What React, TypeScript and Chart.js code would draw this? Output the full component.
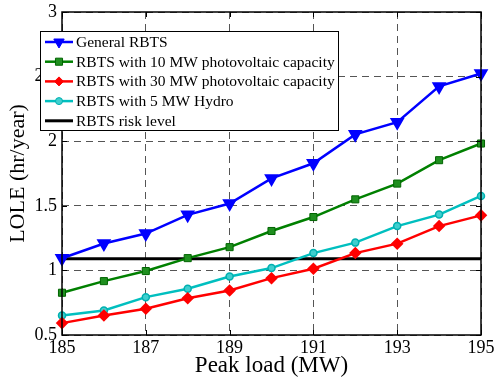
import React, { useEffect, useRef } from "react";
import { Chart, registerables } from "chart.js";

Chart.register(...registerables);

const peakLoad = [185, 186, 187, 188, 189, 190, 191, 192, 193, 194, 195];
const generalRBTS = [1.094, 1.208, 1.285, 1.43, 1.518, 1.712, 1.829, 2.053, 2.147, 2.424, 2.524];
const pv10 = [0.827, 0.917, 0.995, 1.095, 1.18, 1.305, 1.413, 1.55, 1.672, 1.853, 1.982];
const pv30 = [0.592, 0.651, 0.703, 0.785, 0.845, 0.94, 1.013, 1.134, 1.207, 1.343, 1.426];
const hydro5 = [0.651, 0.69, 0.793, 0.858, 0.953, 1.018, 1.134, 1.215, 1.343, 1.432, 1.576];
const riskLevel = 1.09;
const riskX = [185, 195];

const labels = [
  "General RBTS",
  "RBTS with 10 MW photovoltaic capacity",
  "RBTS with 30 MW photovoltaic capacity",
  "RBTS with 5 MW Hydro",
  "RBTS risk level",
];

const FONT = "'Liberation Serif', 'Times New Roman', serif";

function toXY(xs: number[], ys: number[]) {
  return xs.map((x, i) => ({ x, y: ys[i] }));
}

function drawMarker(ctx: CanvasRenderingContext2D, style: string, x: number, y: number, r: number, fill: string, stroke: string) {
  ctx.save();
  ctx.fillStyle = fill;
  ctx.strokeStyle = stroke;
  ctx.lineWidth = 1;
  ctx.beginPath();
  if (style === "triDown") {
    const h = r * 1.5;
    const w = r * Math.sqrt(3) / 2;
    ctx.moveTo(x - w, y - h / 3);
    ctx.lineTo(x + w, y - h / 3);
    ctx.lineTo(x, y + (2 * h) / 3);
    ctx.closePath();
  } else if (style === "rect") {
    const s = r * Math.SQRT1_2;
    ctx.rect(x - s, y - s, 2 * s, 2 * s);
  } else if (style === "rectRot") {
    ctx.moveTo(x - r, y);
    ctx.lineTo(x, y - r);
    ctx.lineTo(x + r, y);
    ctx.lineTo(x, y + r);
    ctx.closePath();
  } else if (style === "circle") {
    ctx.arc(x, y, r, 0, Math.PI * 2);
  }
  if (style !== "none") {
    ctx.fill();
    ctx.stroke();
  }
  ctx.restore();
}

const framePlugin = {
  id: "framePlugin",
  afterDraw(chart: any) {
    const ctx: CanvasRenderingContext2D = chart.ctx;
    const { left, right, top, bottom } = chart.chartArea;
    ctx.save();
    ctx.strokeStyle = "#000";
    ctx.lineWidth = 1;
    const xs = chart.scales.x;
    const ys = chart.scales.y;
    ctx.beginPath();
    xs.ticks.forEach((t: any) => {
      const px = Math.round(xs.getPixelForValue(t.value)) + 0.5;
      ctx.moveTo(px, top);
      ctx.lineTo(px, top + 5);
      ctx.moveTo(px, bottom);
      ctx.lineTo(px, bottom - 5);
    });
    ys.ticks.forEach((t: any) => {
      const py = Math.round(ys.getPixelForValue(t.value)) + 0.5;
      ctx.moveTo(left, py);
      ctx.lineTo(left + 5, py);
      ctx.moveTo(right, py);
      ctx.lineTo(right - 5, py);
    });
    ctx.stroke();
    ctx.lineWidth = 1.5;
    ctx.strokeRect(left, top, right - left, bottom - top);

    // legend
    const bx = 40, by = 31, bw = 298, bh = 99;
    ctx.fillStyle = "#fff";
    ctx.fillRect(bx, by, bw, bh);
    ctx.lineWidth = 1;
    ctx.strokeStyle = "#000";
    ctx.strokeRect(bx + 0.5, by + 0.5, bw, bh);
    const styles = ["triDown", "rect", "rectRot", "circle", "none"];
    const radii = [6, 5, 4.5, 3.5, 0];
    chart.data.datasets.forEach((ds: any, i: number) => {
      const cy = 42 + i * 19.7;
      ctx.strokeStyle = ds.borderColor;
      ctx.lineWidth = ds.borderWidth;
      ctx.beginPath();
      ctx.moveTo(45, cy);
      ctx.lineTo(73, cy);
      ctx.stroke();
      drawMarker(ctx, styles[i], 59, cy, radii[i], ds.pointBackgroundColor || ds.borderColor, ds.pointBorderColor || ds.borderColor);
      ctx.fillStyle = "#000";
      ctx.font = "15.5px " + FONT;
      ctx.textBaseline = "middle";
      ctx.textAlign = "left";
      ctx.fillText(ds.label, 76, cy + 1);
    });
    ctx.restore();
  },
};

export default function App() {
  const ref = useRef<HTMLCanvasElement | null>(null);
  useEffect(() => {
    if (!ref.current) return;
    const chart = new Chart(ref.current, {
      type: "line",
      data: {
        datasets: [
          {
            label: labels[0],
            data: toXY(peakLoad, generalRBTS),
            borderColor: "#0000ff",
            backgroundColor: "#0000ff",
            pointBackgroundColor: "#0000ff",
            pointBorderColor: "#0000ff",
            borderWidth: 2.5,
            pointStyle: "triangle",
            rotation: 180,
            pointRadius: 6,
            clip: false,
          },
          {
            label: labels[1],
            data: toXY(peakLoad, pv10),
            borderColor: "#008000",
            backgroundColor: "#008000",
            pointBackgroundColor: "#1f8f1f",
            pointBorderColor: "#006400",
            borderWidth: 2.5,
            pointStyle: "rect",
            pointRadius: 5,
            pointBorderWidth: 1,
            clip: false,
          },
          {
            label: labels[2],
            data: toXY(peakLoad, pv30),
            borderColor: "#ff0000",
            backgroundColor: "#ff0000",
            pointBackgroundColor: "#ff0000",
            pointBorderColor: "#ff0000",
            borderWidth: 2.5,
            pointStyle: "rectRot",
            pointRadius: 4.5,
            clip: false,
          },
          {
            label: labels[3],
            data: toXY(peakLoad, hydro5),
            borderColor: "#00bfbf",
            backgroundColor: "#00bfbf",
            pointBackgroundColor: "#3fcfcf",
            pointBorderColor: "#00b0b0",
            borderWidth: 2.5,
            pointStyle: "circle",
            pointRadius: 3.5,
            pointBorderWidth: 1.5,
            clip: false,
          },
          {
            label: labels[4],
            data: riskX.map((x) => ({ x, y: riskLevel })),
            borderColor: "#000000",
            backgroundColor: "#000000",
            borderWidth: 3,
            pointRadius: 0,
            clip: false,
          },
        ],
      },
      options: {
        animation: false,
        responsive: false,
        layout: { padding: { left: 0, top: 12, right: 15, bottom: 0 } },
        plugins: { legend: { display: false }, tooltip: { enabled: false } },
        elements: { line: { tension: 0 } },
        scales: {
          x: {
            type: "linear",
            min: 185,
            max: 195,
            afterFit: (s: any) => {
              s.height = 50;
              s.paddingLeft = 0;
              s.paddingRight = 0;
            },
            ticks: {
              stepSize: 2,
              color: "#000",
              font: { family: FONT, size: 18 },
              padding: 2,
              maxRotation: 0,
            },
            grid: { color: "#555", lineWidth: 1, drawTicks: false },
            border: { display: false, dash: [7, 5] },
            title: {
              display: true,
              text: "Peak load (MW)",
              color: "#000",
              font: { family: FONT, size: 23 },
              padding: { top: 0, bottom: 5 },
            },
          },
          y: {
            type: "linear",
            min: 0.5,
            max: 3,
            afterFit: (s: any) => {
              s.width = 62;
              s.paddingTop = 0;
              s.paddingBottom = 0;
            },
            ticks: {
              stepSize: 0.5,
              color: "#000",
              font: { family: FONT, size: 18 },
              padding: 5,
              callback: (v: any) => String(v),
            },
            grid: { color: "#555", lineWidth: 1, drawTicks: false },
            border: { display: false, dash: [7, 5] },
            title: {
              display: true,
              text: "LOLE (hr/year)",
              color: "#000",
              font: { family: FONT, size: 22 },
              padding: { top: 5, bottom: 0 },
            },
          },
        },
      },
      plugins: [framePlugin],
    } as any);
    return () => chart.destroy();
  }, []);
  return (
    <div style={{ position: "absolute", left: 0, top: 0, width: 496, height: 385, background: "#fff" }}>
      <canvas ref={ref} width={496} height={385} style={{ display: "block" }} />
    </div>
  );
}
